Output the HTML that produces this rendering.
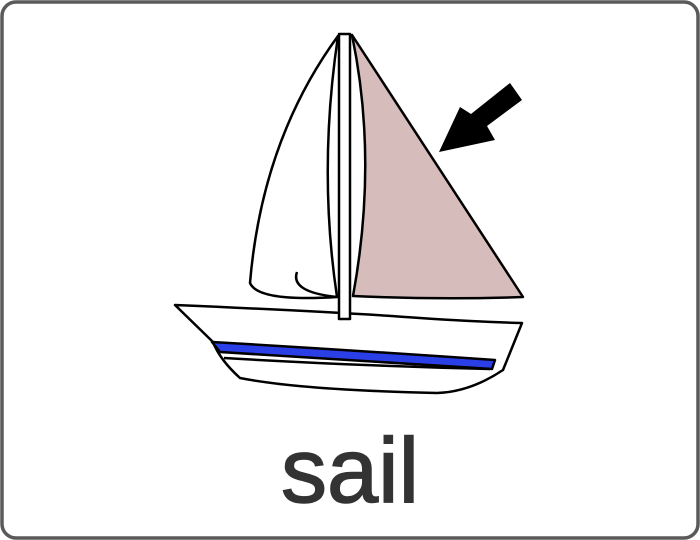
<!DOCTYPE html>
<html><head><meta charset="utf-8"><style>
html,body{margin:0;padding:0;background:#fff;}
svg{display:block;}
</style></head><body>
<svg width="700" height="540" viewBox="0 0 700 540">
<rect x="2" y="2" width="696" height="536" rx="14" fill="#fff" stroke="#5a5a5a" stroke-width="3.5"/>
<g fill="none" stroke="#000" stroke-width="2.5" stroke-linejoin="round">
<path d="M352,35 Q378,160 353,296 Q440,300 523,297 Z" fill="#d7bcbc"/>
<path d="M338,36 Q262,140 250,283 Q258,302 337,297 Q318,170 338,36 Z" fill="#fff"/>
<path d="M297,272 Q290,292 337,297"/>
<path d="M175,305 Q340,312 420,318 Q480,322 522,323 L503,370 Q470,392 437,393 Q300,390 240,378 Q220,360 213,342 Z" fill="#fff"/>
<rect x="339" y="34" width="11" height="285" fill="#fff"/>
<path d="M212,342 Q350,350 495,360 L492,369 Q350,360 220,352 Z" fill="#2b3fe6"/>
<path d="M224,358 Q360,366 490,369"/>
</g>
<path d="M510,83 L522,100 L487,126 L495,140 L439,152 L460,107 L471,114 Z" fill="#000"/>
<text x="350" y="502" text-anchor="middle" font-family="'Liberation Sans',sans-serif" font-size="92" fill="#333" stroke="#333" stroke-width="1.5">sail</text>
</svg>
</body></html>
